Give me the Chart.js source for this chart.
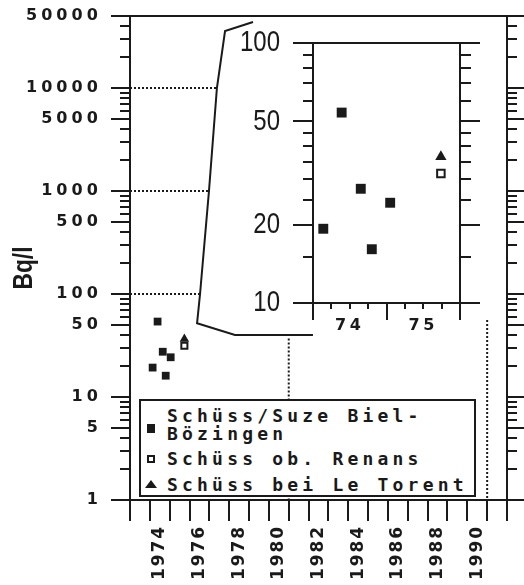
<!DOCTYPE html>
<html>
<head>
<meta charset="utf-8">
<script src="https://cdn.jsdelivr.net/npm/chart.js@4.4.1/dist/chart.umd.min.js"></script>
<style>
	html, body { margin: 0; padding: 0; background: #fff; }
	#wrap { position: relative; width: 524px; height: 585px; overflow: hidden; }
	#mainChart { position: absolute; left: 0; top: 0; }
	#insetChart { position: absolute; left: 220px; top: 10px; }
	#legend {
		position: absolute; left: 139px; top: 399px; width: 333px; height: 94px;
		border: 2px solid #1a1a1a; background: #fff; color: #1a1a1a;
		font: bold 18px "DejaVu Sans Mono", monospace; letter-spacing: 4.2px;
	}
	#legend .row { position: absolute; left: 26px; line-height: 18px; white-space: nowrap; }
	#legend .mk { position: absolute; box-sizing: border-box; }
</style>
</head>
<body>
<div id="wrap">
	<canvas id="mainChart" width="524" height="585"></canvas>
	<canvas id="insetChart" width="280" height="330"></canvas>
	<div id="legend">
		<div class="mk" style="left:6px;top:23px;width:8px;height:9px;background:#1a1a1a"></div>
		<div class="row" style="top:6px">Schüss/Suze Biel-</div>
		<div class="row" style="top:24px">Bözingen</div>
		<div class="mk" style="left:6px;top:54px;width:8px;height:8px;border:2px solid #1a1a1a"></div>
		<div class="row" style="top:49px">Schüss ob. Renans</div>
		<div class="mk" style="left:4px;top:79px;width:0;height:0;border-left:6px solid transparent;border-right:6px solid transparent;border-bottom:8px solid #1a1a1a"></div>
		<div class="row" style="top:75px">Schüss bei Le Torent</div>
	</div>
</div>
<script>
const bielYears = [1974.14, 1974.39, 1974.65, 1974.80, 1975.05];
const bielValues = [19.3, 54, 27.5, 16.1, 24.3];
const renansYears = [1975.74];
const renansValues = [31.5];
const torentYears = [1975.74];
const torentValues = [36.5];

// frame line linking the inset to the main plot
const linkYears = [1979.2, 1977.79, 1977.38, 1976.98, 1976.53, 1976.38, 1978.29, 1982.22];
const linkValues = [43700, 35700, 10000, 1000, 100, 52, 40, 40];

// dotted guides
const guideValues = [10000, 1000, 100];
const guideEnds = [1977.38, 1976.98, 1976.53];
const dropYears = [1981, 1991];
const dropTops = [37, 56];

// axis labels
const yearLabels = [1974, 1976, 1978, 1980, 1982, 1984, 1986, 1988, 1990];
const mainValueLabels = [1, 5, 10, 50, 100, 500, 1000, 5000, 10000, 50000];
const insetValueTicks = [10, 15, 20, 25, 30, 35, 40, 45, 50, 60, 70, 80, 90, 100];
const insetValueLabels = [10, 20, 50, 100];
const insetYearLabels = [1974, 1975];

const ink = "#1a1a1a";
const wide = "DejaVu Sans";

const probe = document.createElement("canvas").getContext("2d");
function textWidth(font, text) {
	probe.font = font;
	return probe.measureText(text).width;
}
// narrow face for the inset numbers and the axis title, when installed
const narrow = textWidth('30px "Liberation Sans Narrow", monospace', "100 Bq/l") !== textWidth("30px monospace", "100 Bq/l")
	? '"Liberation Sans Narrow"'
	: '"Liberation Sans"';

// letter spacing that stretches a label to the width seen in the original
function gapFor(font, text, target) {
	return (target - textWidth(font, text)) / (text.length - 1) + "px";
}

function logTicks(max) {
	const out = [];
	for (let d = 1; d <= max; d *= 10) {
		for (let m = 1; m < 10; m++) {
			if (m * d <= max) out.push(m * d);
		}
	}
	return out;
}

function points(xs, ys) {
	return xs.map((x, i) => ({ x: x, y: ys[i] }));
}

function noPadding(s) {
	s.paddingTop = 0;
	s.paddingBottom = 0;
	s.paddingLeft = 0;
	s.paddingRight = 0;
}

function spaceLabels(scale, gap) {
	const draw = scale.drawLabels;
	scale.drawLabels = function (area) {
		this.ctx.save();
		this.ctx.letterSpacing = gap;
		draw.call(this, area);
		this.ctx.restore();
	};
}

// squeeze each label horizontally around its anchor
function condenseLabels(scale, sx) {
	const draw = scale.drawLabels;
	scale.drawLabels = function (area) {
		const ctx = this.ctx;
		const fill = CanvasRenderingContext2D.prototype.fillText;
		ctx.fillText = function (text, x, y) {
			this.save();
			this.translate(x, y);
			this.scale(sx, 1);
			fill.call(this, text, 0, 0);
			this.restore();
		};
		draw.call(this, area);
		delete ctx.fillText;
	};
}

// tick marks, frame and axis title of the main plot
const mainFrame = {
	id: "mainFrame",
	afterDraw(chart) {
		const ctx = chart.ctx;
		const a = chart.chartArea;
		const x = chart.scales.x;
		const y = chart.scales.y;
		ctx.save();
		ctx.strokeStyle = ink;
		ctx.lineWidth = 2;
		ctx.strokeRect(a.left, a.top, a.right - a.left, a.bottom - a.top);
		ctx.beginPath();
		y.ticks.forEach((t) => {
			const py = Math.round(y.getPixelForValue(t.value));
			const major = mainValueLabels.includes(t.value);
			ctx.moveTo(a.left - (major ? 19 : 10), py);
			ctx.lineTo(a.left, py);
			ctx.moveTo(a.right, py);
			ctx.lineTo(a.right + (major ? 18 : 10), py);
		});
		for (let yr = Math.ceil(x.min); yr <= x.max; yr++) {
			const px = Math.round(x.getPixelForValue(yr));
			ctx.moveTo(px, a.bottom);
			ctx.lineTo(px, a.bottom + 21);
		}
		ctx.stroke();

		const font = "bold 27px " + narrow;
		ctx.translate(25, 268);
		ctx.rotate(-Math.PI / 2);
		ctx.scale(43 / textWidth(font, "Bq/l"), 1);
		ctx.fillStyle = ink;
		ctx.font = font;
		ctx.textAlign = "center";
		ctx.textBaseline = "middle";
		ctx.fillText("Bq/l", 0, 0);
		ctx.restore();
	},
};

const insetFrame = {
	id: "insetFrame",
	afterDraw(chart) {
		const ctx = chart.ctx;
		const a = chart.chartArea;
		const x = chart.scales.x;
		const y = chart.scales.y;
		ctx.save();
		ctx.strokeStyle = ink;
		ctx.lineWidth = 2;
		ctx.strokeRect(a.left, a.top, a.right - a.left, a.bottom - a.top);
		ctx.beginPath();
		y.ticks.forEach((t) => {
			const py = Math.round(y.getPixelForValue(t.value));
			const major = insetValueLabels.includes(t.value);
			ctx.moveTo(a.left - (major ? 20 : 10), py);
			ctx.lineTo(a.left, py);
			ctx.moveTo(a.right, py);
			ctx.lineTo(a.right + (major ? 20 : 11), py);
		});
		for (let q = x.min; q <= x.max + 0.001; q += 0.25) {
			const px = Math.round(x.getPixelForValue(q));
			const whole = Math.abs(q - Math.round(q)) < 0.01;
			ctx.moveTo(px, a.bottom);
			ctx.lineTo(px, a.bottom + (whole ? 17 : 6));
		}
		ctx.stroke();
		ctx.restore();
	},
};

const lineStyle = { showLine: true, pointRadius: 0, borderColor: ink, borderWidth: 2, fill: false };

const mainChart = new Chart(document.getElementById("mainChart"), {
	type: "scatter",
	data: {
		datasets: [
			{ label: "Schüss/Suze Biel-Bözingen", data: points(bielYears, bielValues), pointStyle: "rect", pointRadius: 5.5, backgroundColor: ink, borderWidth: 0 },
			{ label: "Schüss ob. Renans", data: points(renansYears, renansValues), pointStyle: "rect", pointRadius: 4.3, backgroundColor: "#fff", borderColor: ink, borderWidth: 2 },
			{ label: "Schüss bei Le Torent", data: points(torentYears, torentValues), pointStyle: "triangle", pointRadius: 5.5, backgroundColor: ink, borderWidth: 0 },
			Object.assign({ label: "link", data: points(linkYears, linkValues) }, lineStyle),
			...guideValues.map((v, i) => Object.assign({ label: "guide", data: [{ x: 1973, y: v }, { x: guideEnds[i], y: v }], borderDash: [2, 2] }, lineStyle)),
			...dropYears.map((yr, i) => Object.assign({ label: "drop", data: [{ x: yr, y: dropTops[i] }, { x: yr, y: 1 }], borderDash: [2, 2] }, lineStyle)),
		],
	},
	options: {
		responsive: false,
		animation: false,
		layout: { padding: { top: 16, right: 17, left: 0, bottom: 0 } },
		plugins: { legend: { display: false }, tooltip: { enabled: false } },
		scales: {
			x: {
				type: "linear",
				min: 1973,
				max: 1992,
				grid: { display: false, drawTicks: false },
				border: { display: false },
				afterBuildTicks: (s) => { s.ticks = yearLabels.map((v) => ({ value: v + 0.5 })); },
				afterFit: (s) => { s.height = 85; noPadding(s); },
				ticks: {
					autoSkip: false,
					minRotation: 90,
					maxRotation: 90,
					padding: 25,
					color: ink,
					font: { family: wide, size: 17, weight: "bold" },
					callback: (v) => String(Math.floor(v)),
				},
			},
			y: {
				type: "logarithmic",
				min: 1,
				max: 50000,
				grid: { display: false, drawTicks: false },
				border: { display: false },
				afterBuildTicks: (s) => { s.ticks = logTicks(50000).map((v) => ({ value: v })); },
				afterFit: (s) => { s.width = 130; noPadding(s); },
				ticks: {
					autoSkip: false,
					padding: 28,
					color: ink,
					font: { family: wide, size: 16, weight: "bold" },
					callback: (v) => (mainValueLabels.includes(v) ? String(v) : ""),
				},
			},
		},
	},
	plugins: [mainFrame],
});

const insetChart = new Chart(document.getElementById("insetChart"), {
	type: "scatter",
	data: {
		datasets: [
			{ label: "Schüss/Suze Biel-Bözingen", data: points(bielYears, bielValues), pointStyle: "rect", pointRadius: 7, backgroundColor: ink, borderWidth: 0 },
			{ label: "Schüss ob. Renans", data: points(renansYears, renansValues), pointStyle: "rect", pointRadius: 5.3, backgroundColor: "#fff", borderColor: ink, borderWidth: 2 },
			{ label: "Schüss bei Le Torent", data: points(torentYears, torentValues), pointStyle: "triangle", pointRadius: 6.5, backgroundColor: ink, borderWidth: 0 },
		],
	},
	options: {
		responsive: false,
		animation: false,
		layout: { padding: { top: 33, right: 40, left: 0, bottom: 0 } },
		plugins: { legend: { display: false }, tooltip: { enabled: false } },
		scales: {
			x: {
				type: "linear",
				min: 1974,
				max: 1976,
				grid: { display: false, drawTicks: false },
				border: { display: false },
				afterBuildTicks: (s) => { s.ticks = insetYearLabels.map((v) => ({ value: v + 0.5 })); },
				afterFit: (s) => { s.height = 37; noPadding(s); },
				ticks: {
					autoSkip: false,
					minRotation: 0,
					maxRotation: 0,
					padding: 13,
					color: ink,
					font: { family: wide, size: 16, weight: "bold" },
					callback: (v) => String(Math.floor(v)).slice(2),
				},
			},
			y: {
				type: "logarithmic",
				min: 10,
				max: 100,
				grid: { display: false, drawTicks: false },
				border: { display: false },
				afterBuildTicks: (s) => { s.ticks = insetValueTicks.map((v) => ({ value: v })); },
				afterFit: (s) => { s.width = 93; noPadding(s); },
				ticks: {
					autoSkip: false,
					padding: 33,
					color: ink,
					font: { family: narrow, size: 30 },
					callback: (v) => (insetValueLabels.includes(v) ? String(v) : ""),
				},
			},
		},
	},
	plugins: [insetFrame],
});

// letter widths of the original tick lettering
spaceLabels(mainChart.scales.x, gapFor("bold 17px " + wide, "1974", 53));
spaceLabels(mainChart.scales.y, gapFor("bold 16px " + wide, "50000", 72));
spaceLabels(insetChart.scales.x, gapFor("bold 16px " + wide, "74", 26));
condenseLabels(insetChart.scales.y, 40 / textWidth("30px " + narrow, "100"));
mainChart.draw();
insetChart.draw();
</script>
</body>
</html>
